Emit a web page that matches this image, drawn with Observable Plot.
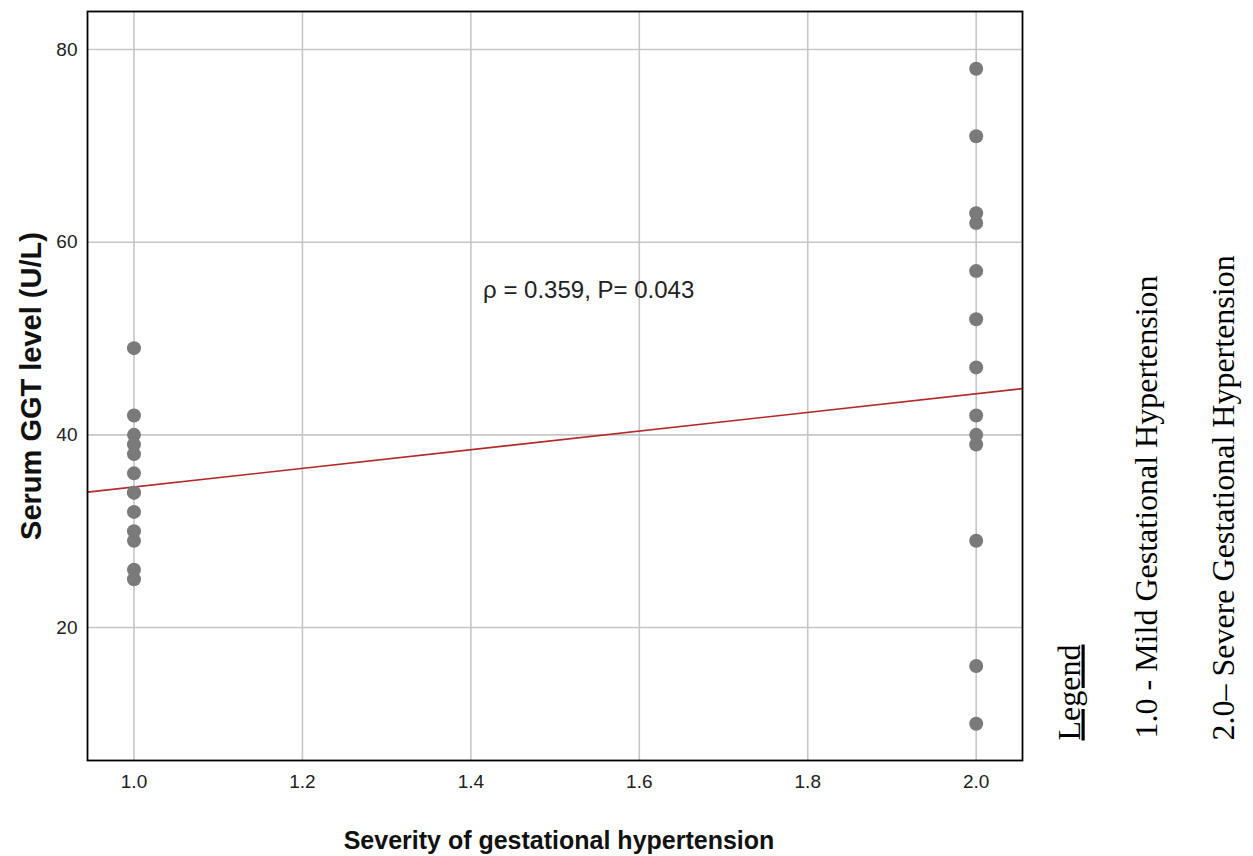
<!DOCTYPE html>
<html>
<head>
<meta charset="utf-8">
<script src="https://cdn.jsdelivr.net/npm/d3@7"></script>
<script src="https://cdn.jsdelivr.net/npm/@observablehq/plot@0.6"></script>
<style>
  html, body { margin: 0; padding: 0; background: #ffffff; }
  #chart { width: 1253px; height: 856px; }
</style>
</head>
<body>
<div id="chart"></div>
<script>
// ---- Data ----
const severityLevels = [1.0, 2.0];
const mildGGT = [49, 42, 40, 39, 38, 36, 34, 34, 32, 30, 29, 26, 25];
const severeGGT = [78, 71, 63, 62, 57, 52, 47, 42, 40, 39, 29, 16, 10];
const fitLineX = [0.9448, 2.055];
const fitLineY = [34.05, 44.8];
const xTicks = [1.0, 1.2, 1.4, 1.6, 1.8, 2.0];
const yTicks = [20, 40, 60, 80];
const annotation = ["ρ = 0.359, P= 0.043"];
const annotationX = [1.4145];
const annotationY = [54.2];
const xTitle = "Severity of gestational hypertension";
const yTitle = "Serum GGT level (U/L)";
const legendTitle = ["Legend"];
const legendItems = ["1.0 - Mild Gestational Hypertension", "2.0– Severe Gestational Hypertension"];

const points = [
  ...mildGGT.map(v => ({severity: severityLevels[0], ggt: v})),
  ...severeGGT.map(v => ({severity: severityLevels[1], ggt: v}))
];
const fitLine = fitLineX.map((x, i) => ({x, y: fitLineY[i]}));

const sans = "'Liberation Sans', Arial, sans-serif";
const narrow = "'Liberation Sans Narrow', 'Arial Narrow', 'Liberation Sans', Arial, sans-serif";
const serif = "'Liberation Serif', 'Times New Roman', serif";

const chart = Plot.plot({
  width: 1253,
  height: 856,
  marginLeft: 87,
  marginRight: 231,
  marginTop: 11,
  marginBottom: 96,
  style: {fontFamily: sans, fontSize: "19px", background: "#ffffff", color: "#222"},
  x: {domain: [0.9448, 2.055]},
  y: {domain: [6.19, 83.95]},
  marks: [
    Plot.gridX(xTicks, {stroke: "#c6c6c6", strokeOpacity: 1, strokeWidth: 1.6}),
    Plot.gridY(yTicks, {stroke: "#c6c6c6", strokeOpacity: 1, strokeWidth: 1.6}),
    Plot.axisX(xTicks, {tickSize: 0, tickPadding: 14, tickFormat: d => d.toFixed(1), label: null, fill: "#222"}),
    Plot.axisY(yTicks, {tickSize: 0, tickPadding: 10, label: null, fill: "#222"}),
    Plot.line(fitLine, {x: "x", y: "y", stroke: "#b22a2a", strokeWidth: 1.6}),
    Plot.dot(points, {x: "severity", y: "ggt", r: 7, fill: "#7a7a7a", stroke: "none"}),
    Plot.text(annotation, {x: annotationX, y: annotationY, text: d => d, textAnchor: "start", lineAnchor: "bottom", fontSize: 24, fill: "#222", fontFamily: sans}),
    Plot.frame({stroke: "#000", strokeWidth: 1.8}),
    // axis titles
    Plot.text([xTitle], {frameAnchor: "bottom", text: d => d, lineAnchor: "bottom", dy: 88, dx: 4, fontSize: 25, fontWeight: "bold", fill: "#111", fontFamily: sans}),
    Plot.text([yTitle], {frameAnchor: "left", text: d => d, rotate: -90, lineAnchor: "bottom", textAnchor: "middle", dx: -47, fontSize: 29, fontWeight: "bold", fill: "#111", fontFamily: sans}),
    // legend
    Plot.text(legendTitle, {frameAnchor: "bottom-right", text: d => d, rotate: -90, textAnchor: "start", lineAnchor: "bottom", dx: 57, dy: -20, fontSize: 32, fill: "#000", fontFamily: serif}),
    Plot.text([legendItems[0]], {frameAnchor: "bottom-right", text: d => d, rotate: -90, textAnchor: "start", lineAnchor: "bottom", dx: 134, dy: -22, fontSize: 32, fill: "#000", fontFamily: serif}),
    Plot.text([legendItems[1]], {frameAnchor: "bottom-right", text: d => d, rotate: -90, textAnchor: "start", lineAnchor: "bottom", dx: 211, dy: -20, fontSize: 32, fill: "#000", fontFamily: serif})
  ]
});

const svg = d3.select(chart.tagName.toLowerCase() === "svg" ? chart : chart.querySelector("svg"));
svg.selectAll("text")
  .filter(function() { return this.textContent === legendTitle[0]; })
  .attr("text-decoration", "underline")
  .style("text-decoration", "underline");
svg.selectAll('g[aria-label="x-axis tick label"], g[aria-label="y-axis tick label"]')
  .attr("font-size", 19)
  .attr("font-family", narrow)
  .style("font-size", "19px")
  .style("font-family", narrow);
document.getElementById("chart").appendChild(chart);
</script>
</body>
</html>
